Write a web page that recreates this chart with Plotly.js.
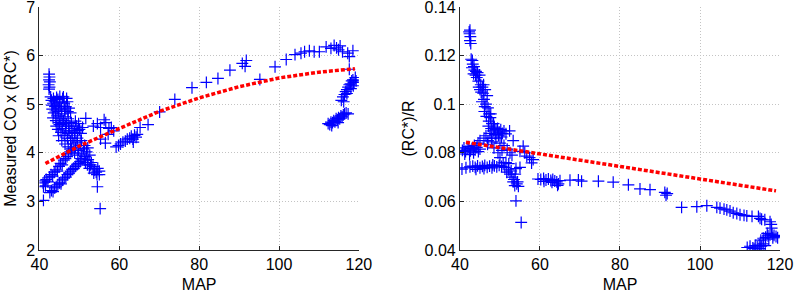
<!DOCTYPE html>
<html>
<head>
<meta charset="utf-8">
<script src="https://cdn.plot.ly/plotly-3.0.1.min.js"></script>
<style>html,body{margin:0;padding:0;background:#fff;}#chart{width:794px;height:294px;}</style>
</head>
<body>
<div id="chart"></div>
<script>
// ---------- Left panel: MAP vs Measured CO x (RC*) ----------
var mapLeft = [
  42.4,42.5,42.4,42.6,42.3,42.5,42.4,
  43.0,43.4,43.8,44.2,44.6,45.0,45.4,45.8,46.2,46.6,47.0,47.4,
  43.2,43.6,44.0,44.4,44.8,45.2,45.6,46.0,46.4,46.8,47.2,47.6,
  44.2,44.6,45.0,45.4,45.8,46.2,46.6,47.0,47.4,47.8,
  48.0,48.4,48.8,49.2,49.6,50.0,50.4,50.8,48.2,48.6,49.0,49.4,49.8,50.2,50.6,51.0,51.4,51.8,52.2,52.6,53.0,53.4,53.8,54.2,54.6,55.0,52.0,52.5,51.5,
  42.8,43.5,44.3,45.1,46.0,46.8,43.1,43.9,44.7,45.5,46.3,47.1,47.8,43.4,44.1,44.9,45.7,46.5,47.3,48.1,48.9,49.5,44.8,45.6,46.4,47.2,48.0,48.8,49.6,50.4,51.2,52.0,52.8,53.6,54.4,55.0,50.5,51.3,52.1,49.0,49.8,
  40.9,41.3,41.7,42.1,42.5,42.9,43.3,43.7,44.1,44.5,44.9,45.3,45.7,46.1,46.5,46.9,47.3,47.7,48.1,41.0,41.5,
  42.6,43.0,43.4,43.8,44.2,44.6,45.0,45.4,45.8,46.2,46.6,47.0,47.4,47.8,48.2,48.6,49.0,49.4,49.8,50.2,41.0,
  51.6,53.5,54.5,55.3,56.2,56.6,57.4,58.0,58.6,56.5,55.3,57.2,
  54.5,55.2,
  59.2,59.8,60.3,60.9,61.5,62.0,62.6,63.0,63.4,63.8,64.2,64.5,63.5,65.2,67.2,
  70.1,73.9,78.2,81.8,84.7,87.7,90.8,91.5,91.8,95.2,99.0,101.8,104.0,105.5,106.4,107.6,108.8,110.1,111.8,113.0,113.8,114.4,114.9,115.3,115.9,117.2,117.6,118.5,
  112.3,112.7,113.0,113.4,113.7,114.0,114.3,114.6,114.9,115.2,115.5,115.8,116.1,116.4,116.8,117.3,113.2,114.8,
  115.6,116.0,116.4,116.7,117.0,117.3,117.6,117.9,118.2,118.5,118.8,119.1,117.0,118.0,118.6,117.6,116.2,119.3
];
var coLeft = [
  5.62,5.56,5.50,5.46,5.40,5.35,5.31,
  5.08,5.02,5.05,4.98,5.10,5.04,4.96,5.12,5.02,4.95,5.05,4.92,
  4.90,4.82,4.86,4.76,4.85,4.70,4.80,4.66,4.74,4.60,4.70,4.55,
  4.55,4.48,4.58,4.42,4.50,4.36,4.45,4.30,4.40,4.25,
  4.62,4.50,4.42,4.55,4.46,4.48,4.40,4.52,4.30,4.18,4.10,4.22,4.05,4.15,3.98,4.08,3.92,4.02,3.86,3.95,3.80,3.72,3.65,3.60,3.68,3.62,3.75,3.68,3.80,
  5.15,5.12,5.14,5.16,5.15,5.12,4.98,4.95,4.92,4.90,4.88,4.85,4.82,4.72,4.66,4.62,4.60,4.55,4.50,4.45,4.35,4.30,4.35,4.25,4.18,4.12,4.08,4.00,3.95,3.88,3.85,3.80,3.75,3.58,3.55,3.55,4.25,4.15,4.10,4.65,4.60,
  3.38,3.42,3.45,3.40,3.50,3.55,3.52,3.60,3.65,3.62,3.72,3.78,3.75,3.85,3.88,3.92,3.98,4.02,4.05,3.30,3.32,
  3.18,3.22,3.20,3.28,3.30,3.34,3.38,3.36,3.44,3.48,3.50,3.55,3.58,3.62,3.66,3.68,3.72,3.75,3.78,3.82,3.02,
  4.71,4.55,4.60,4.52,4.68,4.62,4.50,4.52,4.45,4.20,4.28,4.38,
  3.30,2.85,
  4.12,4.15,4.18,4.22,4.24,4.28,4.30,4.34,4.28,4.36,4.32,4.38,4.22,4.52,4.58,
  4.84,5.10,5.34,5.45,5.53,5.70,5.84,5.78,5.90,5.51,5.77,5.92,6.02,6.05,6.08,6.10,6.08,6.08,6.18,6.15,6.21,6.16,6.12,6.20,6.08,6.05,5.98,6.10,
  4.60,4.58,4.63,4.62,4.66,4.64,4.70,4.68,4.72,4.70,4.76,4.74,4.78,4.80,4.82,4.80,4.56,4.62,
  5.08,5.15,5.20,5.26,5.30,5.35,5.40,5.42,5.48,5.50,5.45,5.55,5.22,5.32,5.38,5.72,5.05,5.48
];
var fitMapLeft = [41.5, 50, 60, 70, 80, 90, 100, 110, 119];
var fitCoLeft  = [3.78, 4.14, 4.50, 4.85, 5.13, 5.36, 5.54, 5.66, 5.73];

// ---------- Right panel: MAP vs (RC*)/R ----------
var mapRight = [
  42.5,42.4,42.6,42.5,42.7,42.3,
  42.8,43.2,43.0,43.6,43.4,44.0,44.2,44.6,44.9,45.2,45.0,45.6,45.8,46.0,46.3,46.5,46.8,47.0,46.2,45.5,47.3,47.6,47.2,48.0,47.8,48.3,47.5,48.6,49.0,49.4,49.8,50.2,50.6,51.0,51.5,52.4,53.3,46.5,46.0,45.0,47.0,48.0,49.0,50.0,51.0,51.8,52.5,53.0,50.5,
  43.1,43.5,43.9,44.4,44.7,45.3,45.9,46.1,46.6,47.1,47.7,48.4,48.8,49.6,50.4,47.9,46.9,44.5,48.5,49.5,50.0,51.5,52.2,53.8,54.4,
  40.6,41.0,41.4,41.8,42.2,42.6,43.0,43.4,43.8,44.2,44.6,45.0,41.2,42.4,43.6,
  40.5,41.5,42.5,43.2,43.8,44.4,45.0,45.6,46.2,46.8,47.4,48.0,48.6,49.2,49.8,50.4,44.0,46.0,48.2,
  50.8,51.2,51.7,52.1,52.5,53.0,53.3,53.7,54.2,54.6,53.5,52.8,54.0,55.0,
  55.0,55.8,56.7,57.9,58.3,57.4,56.2,
  54.0,55.3,
  59.5,60.2,60.9,61.5,62.1,62.7,63.2,63.7,64.2,64.6,65.0,64.4,63.0,61.0,
  67.5,69.6,70.4,74.6,78.3,82.1,85.0,87.5,91.2,91.5,91.8,
  95.4,99.2,101.7,104.2,105.0,106.0,106.7,107.5,108.3,109.2,110.0,111.0,111.7,113.0,114.6,115.0,115.4,116.2,117.5,117.9,117.8,
  111.8,112.5,113.2,113.8,114.3,114.8,115.3,115.8,116.3,113.5,115.0,
  115.2,115.8,116.4,117.0,117.5,118.0,118.5,119.0,119.4,117.2,118.2,116.8
];
var ratioRight = [
  0.1305,0.1290,0.1278,0.1262,0.1250,0.1298,
  0.1185,0.1165,0.1150,0.1140,0.1125,0.1135,0.1110,0.1095,0.1120,0.1080,0.1060,0.1070,0.1045,0.1020,0.1060,0.1000,0.1035,0.0985,0.0990,0.1010,0.0960,0.0945,0.0930,0.0920,0.0900,0.0890,0.0880,0.0905,0.0895,0.0900,0.0885,0.0895,0.0880,0.0890,0.0878,0.0890,0.0850,0.0870,0.0860,0.0850,0.0850,0.0845,0.0860,0.0840,0.0830,0.0815,0.0800,0.0790,0.0810,
  0.1180,0.1155,0.1120,0.1130,0.1070,0.1050,0.1080,0.0970,0.0950,0.0910,0.0960,0.0920,0.0875,0.0870,0.0865,0.0860,0.0835,0.0840,0.0820,0.0800,0.0780,0.0760,0.0755,0.0712,0.0680,
  0.0810,0.0820,0.0805,0.0815,0.0825,0.0808,0.0818,0.0800,0.0812,0.0822,0.0805,0.0815,0.0795,0.0792,0.0830,
  0.0733,0.0738,0.0742,0.0745,0.0740,0.0746,0.0738,0.0744,0.0748,0.0740,0.0745,0.0738,0.0746,0.0742,0.0748,0.0744,0.0732,0.0735,0.0750,
  0.0758,0.0740,0.0720,0.0730,0.0712,0.0700,0.0680,0.0665,0.0672,0.0662,0.0690,0.0725,0.0735,0.0740,
  0.0806,0.0827,0.0786,0.0758,0.0772,0.0780,0.0800,
  0.0602,0.0513,
  0.0692,0.0690,0.0694,0.0688,0.0692,0.0686,0.0690,0.0684,0.0680,0.0672,0.0685,0.0666,0.0678,0.0682,
  0.0687,0.0688,0.0683,0.0683,0.0679,0.0668,0.0651,0.0648,0.0637,0.0625,0.0632,
  0.0575,0.0578,0.0582,0.0575,0.0572,0.0568,0.0565,0.0560,0.0553,0.0550,0.0545,0.0542,0.0540,0.0538,0.0538,0.0530,0.0526,0.0524,0.0516,0.0490,0.0505,
  0.0410,0.0415,0.0408,0.0418,0.0412,0.0420,0.0415,0.0425,0.0418,0.0405,0.0405,
  0.0440,0.0448,0.0452,0.0458,0.0462,0.0465,0.0460,0.0455,0.0450,0.0445,0.0450,0.0468
];
var fitMapRight = [41.5, 119];
var fitRatioRight = [0.0843, 0.0643];

// ---------- Tick labels ----------
var xTickVals = [40, 60, 80, 100, 120];
var xTickText = ['40', '60', '80', '100', '120'];
var yLeftTickVals = [2, 3, 4, 5, 6, 7];
var yLeftTickText = ['2', '3', '4', '5', '6', '7'];
var yRightTickVals = [0.04, 0.06, 0.08, 0.10, 0.12, 0.14];
var yRightTickText = ['0.04', '0.06', '0.08', '0.1', '0.12', '0.14'];

var markerStyle = {symbol: 'cross-thin-open', size: 8.5, color: '#0000ff', line: {width: 1.2, color: '#0000ff'}};
var fitStyle = {color: '#ff0000', width: 3.5, dash: '4px,2px'};

var traces = [
  {x: mapLeft, y: coLeft, type: 'scatter', mode: 'markers', marker: markerStyle, xaxis: 'x', yaxis: 'y', hoverinfo: 'skip'},
  {x: fitMapLeft, y: fitCoLeft, type: 'scatter', mode: 'lines', line: fitStyle, xaxis: 'x', yaxis: 'y', hoverinfo: 'skip'},
  {x: mapRight, y: ratioRight, type: 'scatter', mode: 'markers', marker: markerStyle, xaxis: 'x2', yaxis: 'y2', hoverinfo: 'skip'},
  {x: fitMapRight, y: fitRatioRight, type: 'scatter', mode: 'lines', line: fitStyle, xaxis: 'x2', yaxis: 'y2', hoverinfo: 'skip'}
];

var FONT = '"Liberation Sans", Arial, sans-serif';
function axisBase() {
  return {
    showgrid: true, gridcolor: '#c4c4c4', griddash: '1px,2px', gridwidth: 1,
    showline: true, linecolor: '#262626', linewidth: 1, mirror: false,
    ticks: 'inside', ticklen: 4, tickcolor: '#262626', tickwidth: 1,
    zeroline: false, tickfont: {family: FONT, size: 16, color: '#000'},
    ticklabeloverflow: 'allow',
    tickmode: 'array', automargin: false, fixedrange: true
  };
}
var xa = Object.assign(axisBase(), {domain: [0.0497, 0.452], range: [39.9999, 120.0001], tickvals: xTickVals, ticktext: xTickText, anchor: 'y',
  title: {text: 'MAP', font: {family: FONT, size: 16, color: '#000'}, standoff: 6}});
var ya = Object.assign(axisBase(), {domain: [0.150, 0.976], range: [1.99999, 7.00001], tickvals: yLeftTickVals, ticktext: yLeftTickText, anchor: 'x',
  title: {text: 'Measured CO x (RC*)', font: {family: FONT, size: 16, color: '#000'}, standoff: 5}});
var xa2 = Object.assign(axisBase(), {domain: [0.5793, 0.9824], range: [39.9999, 120.0001], tickvals: xTickVals, ticktext: xTickText, anchor: 'y2',
  title: {text: 'MAP', font: {family: FONT, size: 16, color: '#000'}, standoff: 6}});
var ya2 = Object.assign(axisBase(), {domain: [0.150, 0.976], range: [0.0399999, 0.1400001], tickvals: yRightTickVals, ticktext: yRightTickText, anchor: 'x2',
  title: {text: '(RC*)/R', font: {family: FONT, size: 16, color: '#000'}, standoff: 6}});

var layout = {
  width: 794, height: 294,
  margin: {l: 0, r: 0, t: 0, b: 0, pad: 0},
  paper_bgcolor: '#ffffff', plot_bgcolor: '#ffffff',
  showlegend: false,
  font: {family: FONT, size: 16, color: '#000'},
  xaxis: xa, yaxis: ya, xaxis2: xa2, yaxis2: ya2
};

Plotly.newPlot('chart', traces, layout, {staticPlot: true, displayModeBar: false});
</script>
</body>
</html>
